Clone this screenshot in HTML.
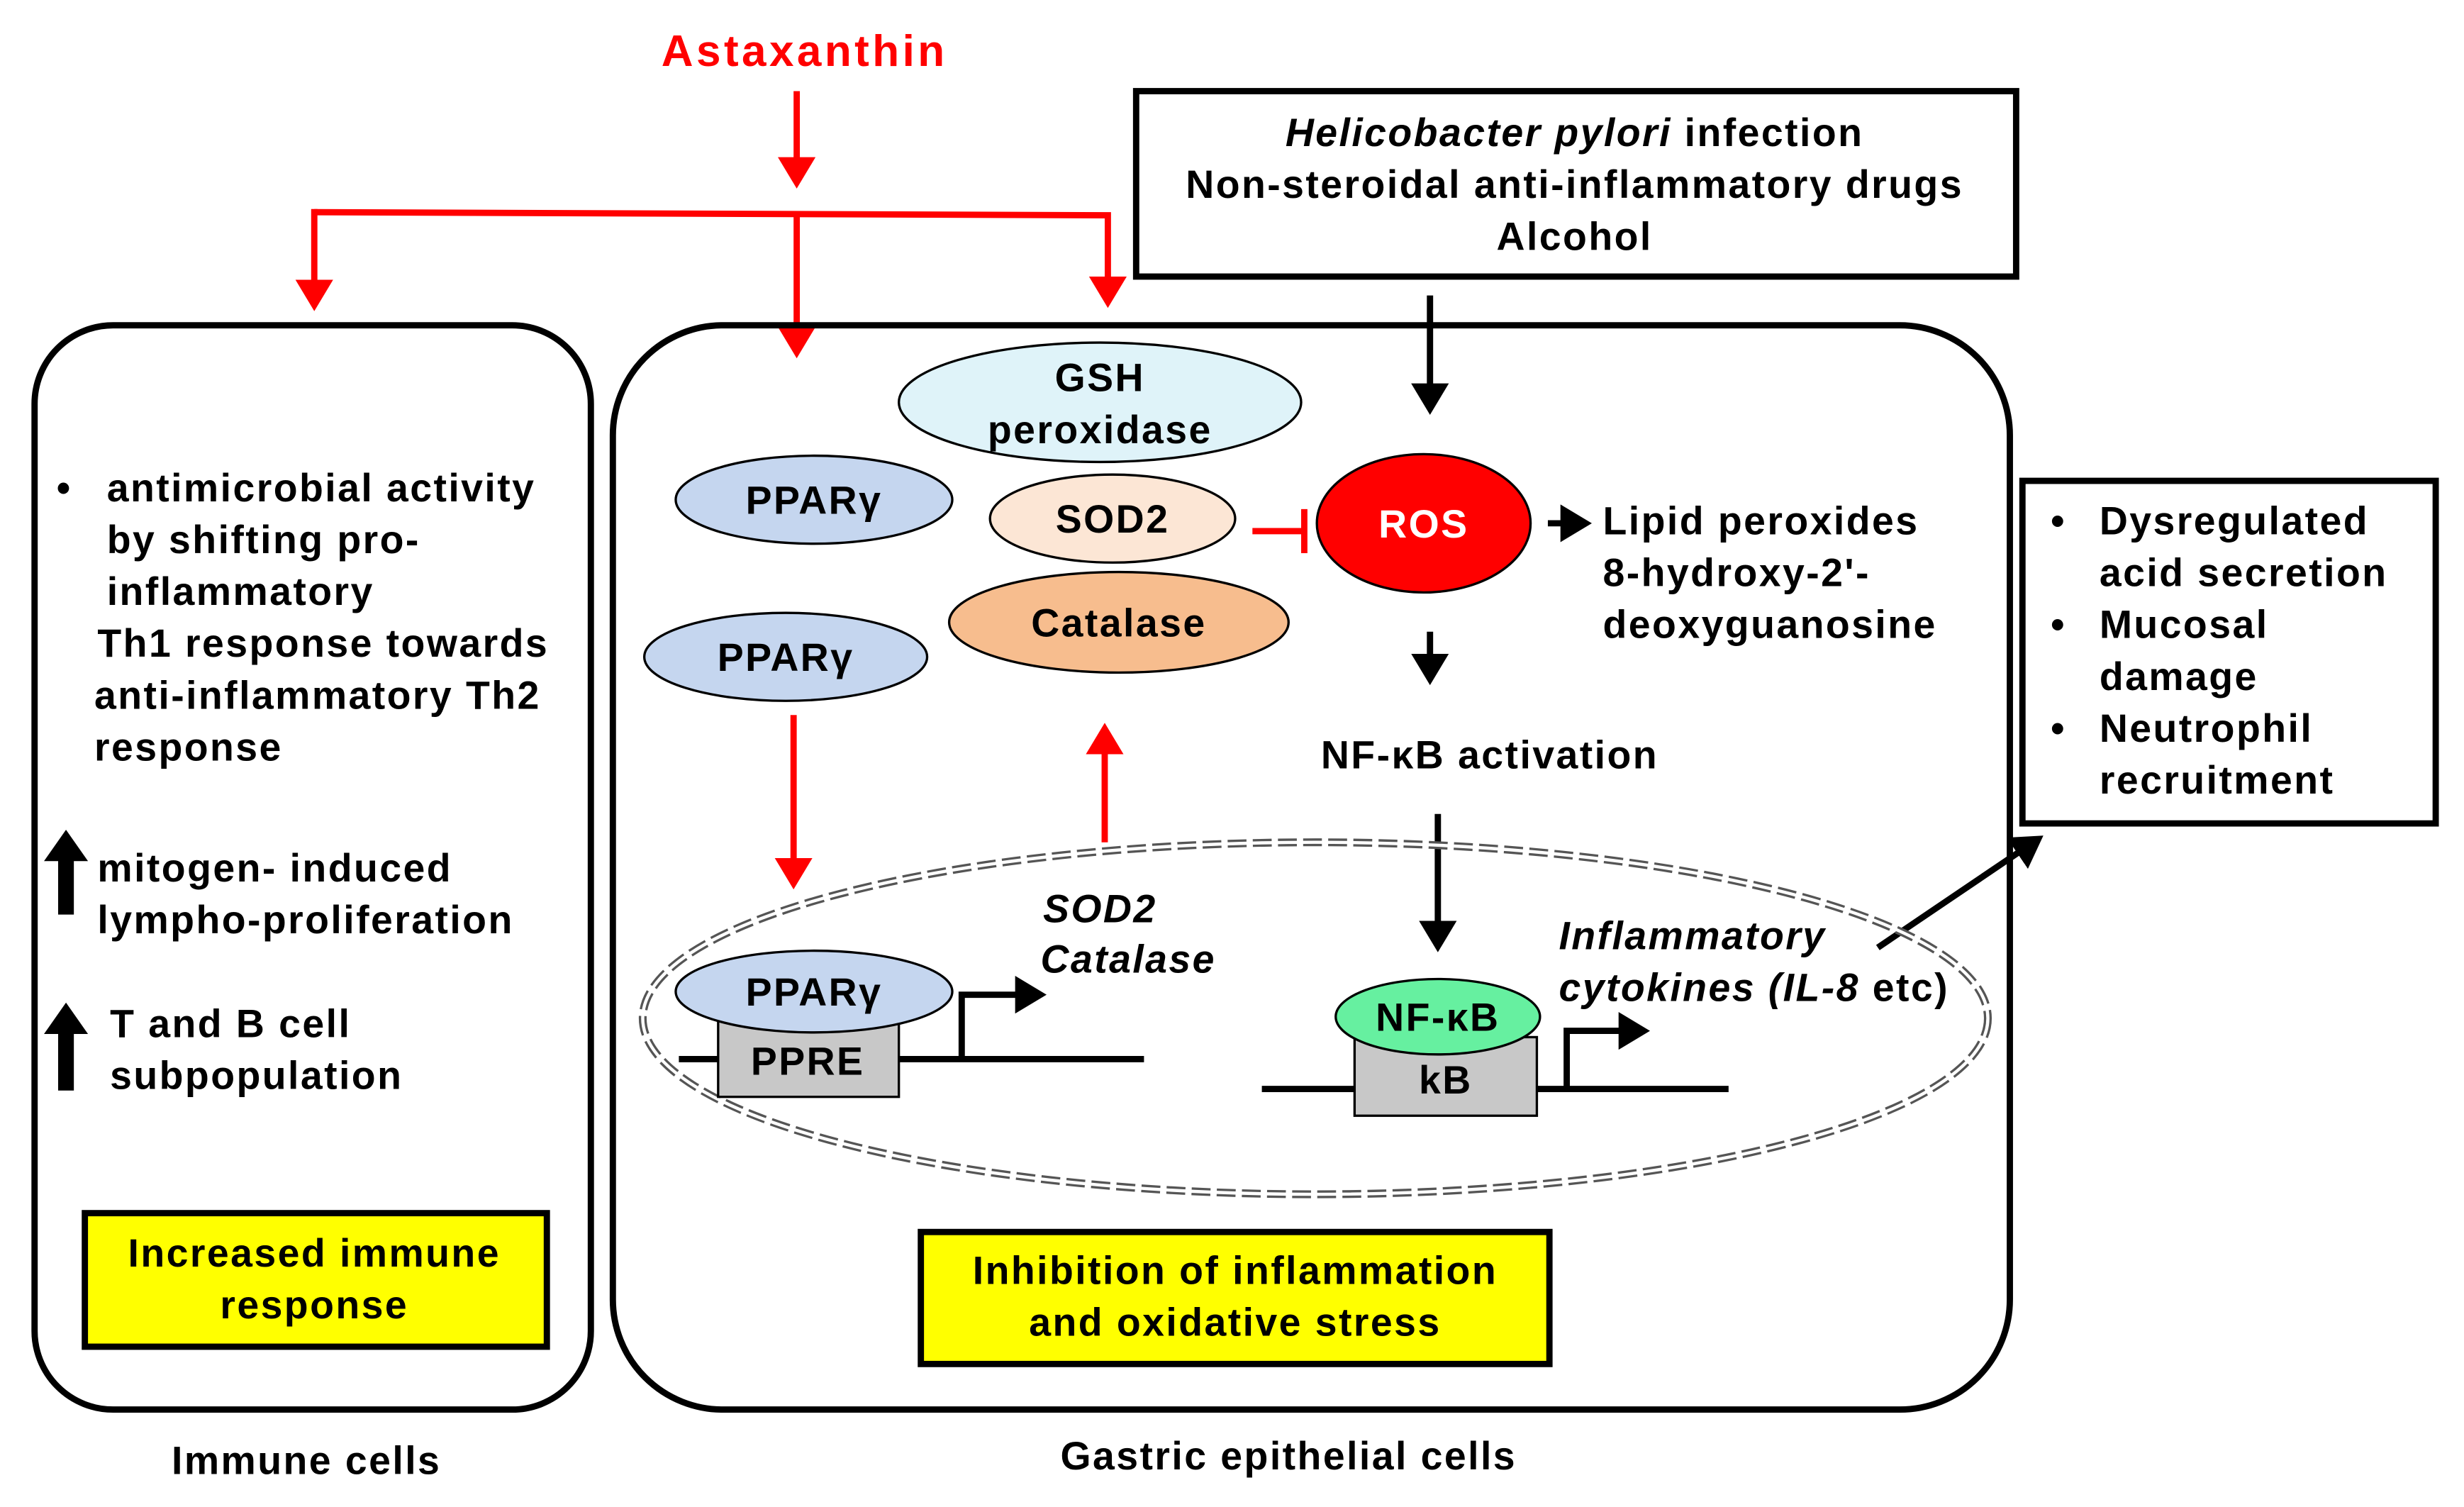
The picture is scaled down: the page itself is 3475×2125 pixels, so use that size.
<!DOCTYPE html>
<html><head><meta charset="utf-8"><style>html,body{margin:0;padding:0;background:#fff}svg{display:block}text{font-family:"Liberation Sans",Arial,sans-serif;font-weight:bold;letter-spacing:1.1px}</style></head><body>
<svg width="3475" height="2125" viewBox="0 0 1568 959" preserveAspectRatio="none" xmlns="http://www.w3.org/2000/svg">
<defs>
<marker id="ar" markerWidth="6" markerHeight="6" refX="4" refY="3" orient="auto" markerUnits="strokeWidth"><path d="M0,0 L5,3 L0,6 z" fill="#f00"/></marker>
<marker id="ab" markerWidth="6" markerHeight="6" refX="4" refY="3" orient="auto" markerUnits="strokeWidth"><path d="M0,0 L5,3 L0,6 z" fill="#000"/></marker>
</defs>
<text x="512" y="42" font-size="28" fill="#f00" text-anchor="middle" style="letter-spacing:2px">Astaxanthin</text>
<g stroke="#f00" stroke-width="4" fill="none">
<line x1="507" y1="58" x2="507" y2="116" marker-end="url(#ar)"/>
<polyline points="200,135 705,137 705,192" marker-end="url(#ar)"/>
<line x1="200" y1="133" x2="200" y2="194" marker-end="url(#ar)"/>
<line x1="507" y1="135" x2="507" y2="224" marker-end="url(#ar)"/>
<line x1="505" y1="455" x2="505" y2="562" marker-end="url(#ar)"/>
<line x1="703" y1="536" x2="703" y2="464" marker-end="url(#ar)"/>
<line x1="797" y1="338" x2="830" y2="338"/>
<line x1="830" y1="324" x2="830" y2="352"/>
</g>
<rect x="723" y="58" width="560" height="118" fill="#fff" stroke="#000" stroke-width="4"/>
<text x="1002" y="93" font-size="25" text-anchor="middle"><tspan font-style="italic">Helicobacter pylori</tspan> infection</text>
<text x="1002" y="126" font-size="25" text-anchor="middle">Non-steroidal anti-inflammatory  drugs</text>
<text x="1002" y="159" font-size="25" text-anchor="middle">Alcohol</text>
<rect x="22" y="207" width="354" height="690" rx="50" fill="none" stroke="#000" stroke-width="4"/>
<rect x="390" y="207" width="889" height="690" rx="70" fill="none" stroke="#000" stroke-width="4"/>
<rect x="1287" y="306" width="263" height="218" fill="#fff" stroke="#000" stroke-width="4"/>
<g font-size="25">
<text x="1305" y="340">•</text><text x="1336" y="340">Dysregulated</text><text x="1336" y="373">acid secretion</text>
<text x="1305" y="406">•</text><text x="1336" y="406">Mucosal</text><text x="1336" y="439">damage</text>
<text x="1305" y="472">•</text><text x="1336" y="472">Neutrophil</text><text x="1336" y="505">recruitment</text>
<text x="36" y="319">•</text><text x="68" y="319">antimicrobial activity</text>
<text x="68" y="352">by shifting pro-</text><text x="68" y="385">inflammatory</text>
<text x="62" y="418">Th1 response towards</text><text x="60" y="451">anti-inflammatory  Th2</text><text x="60" y="484">response</text>
<text x="62" y="561">mitogen- induced</text><text x="62" y="594">lympho-proliferation</text>
<text x="70" y="660">T and B cell</text><text x="70" y="693">subpopulation</text>
</g>
<path d="M42,528 L56,548 L47,548 L47,582 L37,582 L37,548 L28,548 z" fill="#000"/>
<path d="M42,638 L56,658 L47,658 L47,694 L37,694 L37,658 L28,658 z" fill="#000"/>
<ellipse cx="700" cy="256" rx="128" ry="38" fill="#dff3f9" stroke="#000" stroke-width="1.5"/>
<text x="700" y="249" font-size="25" text-anchor="middle">GSH</text>
<text x="700" y="282" font-size="25" text-anchor="middle">peroxidase</text>
<ellipse cx="518" cy="318" rx="88" ry="28" fill="#c5d6ef" stroke="#000" stroke-width="1.5"/>
<text x="518" y="327" font-size="25" text-anchor="middle">PPARγ</text>
<ellipse cx="500" cy="418" rx="90" ry="28" fill="#c5d6ef" stroke="#000" stroke-width="1.5"/>
<text x="500" y="427" font-size="25" text-anchor="middle">PPARγ</text>
<ellipse cx="708" cy="330" rx="78" ry="28" fill="#fce6d5" stroke="#000" stroke-width="1.5"/>
<text x="708" y="339" font-size="25" text-anchor="middle">SOD2</text>
<ellipse cx="712" cy="396" rx="108" ry="32" fill="#f7bd8e" stroke="#000" stroke-width="1.5"/>
<text x="712" y="405" font-size="25" text-anchor="middle">Catalase</text>
<ellipse cx="906" cy="333" rx="68" ry="44" fill="#f00" stroke="#000" stroke-width="1.5"/>
<text x="906" y="342" font-size="25" fill="#fff" text-anchor="middle">ROS</text>
<g stroke="#000" stroke-width="4" fill="none">
<line x1="910" y1="188" x2="910" y2="260" marker-end="url(#ab)"/>
<line x1="985" y1="333" x2="1009" y2="333" marker-end="url(#ab)"/>
<line x1="910" y1="402" x2="910" y2="432" marker-end="url(#ab)"/>
<line x1="915" y1="518" x2="915" y2="602" marker-end="url(#ab)"/>
<line x1="1195" y1="603" x2="1297" y2="534" marker-end="url(#ab)"/>
</g>
<text x="1020" y="340" font-size="25">Lipid peroxides</text>
<text x="1020" y="373" font-size="25">8-hydroxy-2'-</text>
<text x="1020" y="406" font-size="25">deoxyguanosine</text>
<text x="948" y="489" font-size="25" text-anchor="middle">NF-κB activation</text>
<ellipse cx="837" cy="648" rx="428" ry="112" fill="none" stroke="#555" stroke-width="5" stroke-dasharray="12,4"/>
<ellipse cx="837" cy="648" rx="428" ry="112" fill="none" stroke="#fff" stroke-width="2"/>
<line x1="432" y1="674" x2="728" y2="674" stroke="#000" stroke-width="4"/>
<rect x="457" y="648" width="115" height="50" fill="#c8c8c8" stroke="#000" stroke-width="1.5"/>
<text x="514" y="684" font-size="25" text-anchor="middle">PPRE</text>
<ellipse cx="518" cy="631" rx="88" ry="26" fill="#c5d6ef" stroke="#000" stroke-width="1.5"/>
<text x="518" y="640" font-size="25" text-anchor="middle">PPARγ</text>
<polyline points="612,674 612,633 662,633" fill="none" stroke="#000" stroke-width="4" marker-end="url(#ab)"/>
<text x="700" y="587" font-size="25" font-style="italic" text-anchor="middle">SOD2</text>
<text x="718" y="619" font-size="25" font-style="italic" text-anchor="middle">Catalase</text>
<line x1="803" y1="693" x2="1100" y2="693" stroke="#000" stroke-width="4"/>
<rect x="862" y="660" width="116" height="50" fill="#c8c8c8" stroke="#000" stroke-width="1.5"/>
<text x="920" y="696" font-size="25" text-anchor="middle">kB</text>
<ellipse cx="915" cy="647" rx="65" ry="24" fill="#66f0a0" stroke="#000" stroke-width="1.5"/>
<text x="915" y="656" font-size="25" text-anchor="middle">NF-κB</text>
<polyline points="997,693 997,656 1046,656" fill="none" stroke="#000" stroke-width="4" marker-end="url(#ab)"/>
<text x="992" y="604" font-size="25" font-style="italic">Inflammatory</text>
<text x="992" y="637" font-size="25"><tspan font-style="italic">cytokines (IL-8</tspan> etc)</text>
<rect x="54" y="772" width="294" height="85" fill="#ff0" stroke="#000" stroke-width="4"/>
<text x="200" y="806" font-size="25" text-anchor="middle">Increased immune</text>
<text x="200" y="839" font-size="25" text-anchor="middle">response</text>
<rect x="586" y="784" width="400" height="84" fill="#ff0" stroke="#000" stroke-width="4"/>
<text x="786" y="817" font-size="25" text-anchor="middle">Inhibition of inflammation</text>
<text x="786" y="850" font-size="25" text-anchor="middle">and oxidative stress</text>
<text x="195" y="938" font-size="25" text-anchor="middle">Immune  cells</text>
<text x="820" y="935" font-size="25" text-anchor="middle">Gastric epithelial cells</text>
</svg>
</body></html>
